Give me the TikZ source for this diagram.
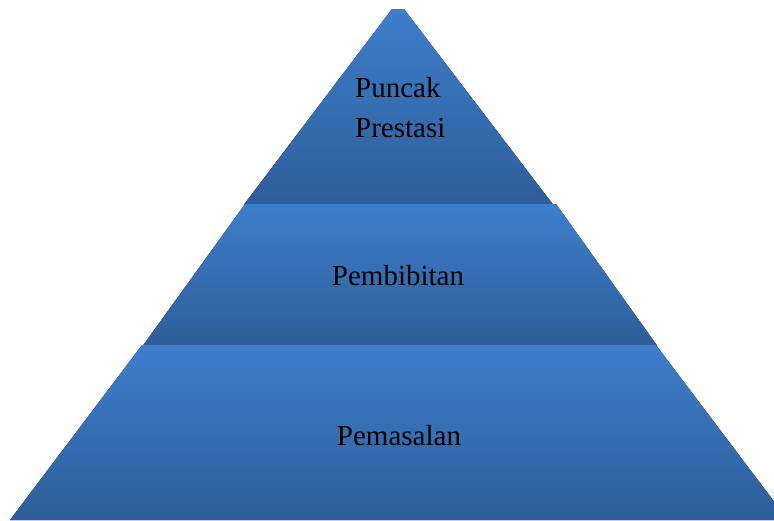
\documentclass[tikz,border=0pt]{standalone}
\usepackage{fontspec}
\setmainfont{Liberation Serif}
\usepackage{xcolor}
\usepackage{tikz}
\usetikzlibrary{positioning, calc}
\definecolor{tierTop}{RGB}{61, 126, 203}
\definecolor{tierBottom}{RGB}{46, 94, 153}

\begin{document}
\begin{tikzpicture}[
    x=1pt, y=-1pt,
    tier/.style={top color=tierTop, bottom color=tierBottom, draw=none},
    label/.style={font=\fontsize{29}{40}\selectfont, text=black, inner sep=0pt}
]
    \useasboundingbox (0,0) rectangle (774,520);
    \begin{scope}
    \clip (0,0) rectangle (774,520);
    \fill[tier] (392,9) -- (404,9) -- (553,204.5) -- (244,204.5) -- cycle;
    \fill[tier] (245,204) -- (556,204) -- (657,345.5) -- (143,345.5) -- cycle;
    \fill[tier] (142,345) -- (656,345) -- (788,520) -- (10,520) -- cycle;
    \end{scope}

    \node[label, align=left, anchor=base west] (puncak) at (355,137) {Puncak\\Prestasi};
    \node[label, anchor=base] (pembibitan) at (398,285) {Pembibitan};
    \node[label, anchor=base] (pemasalan) at (399,445) {Pemasalan};
\end{tikzpicture}
\end{document}
